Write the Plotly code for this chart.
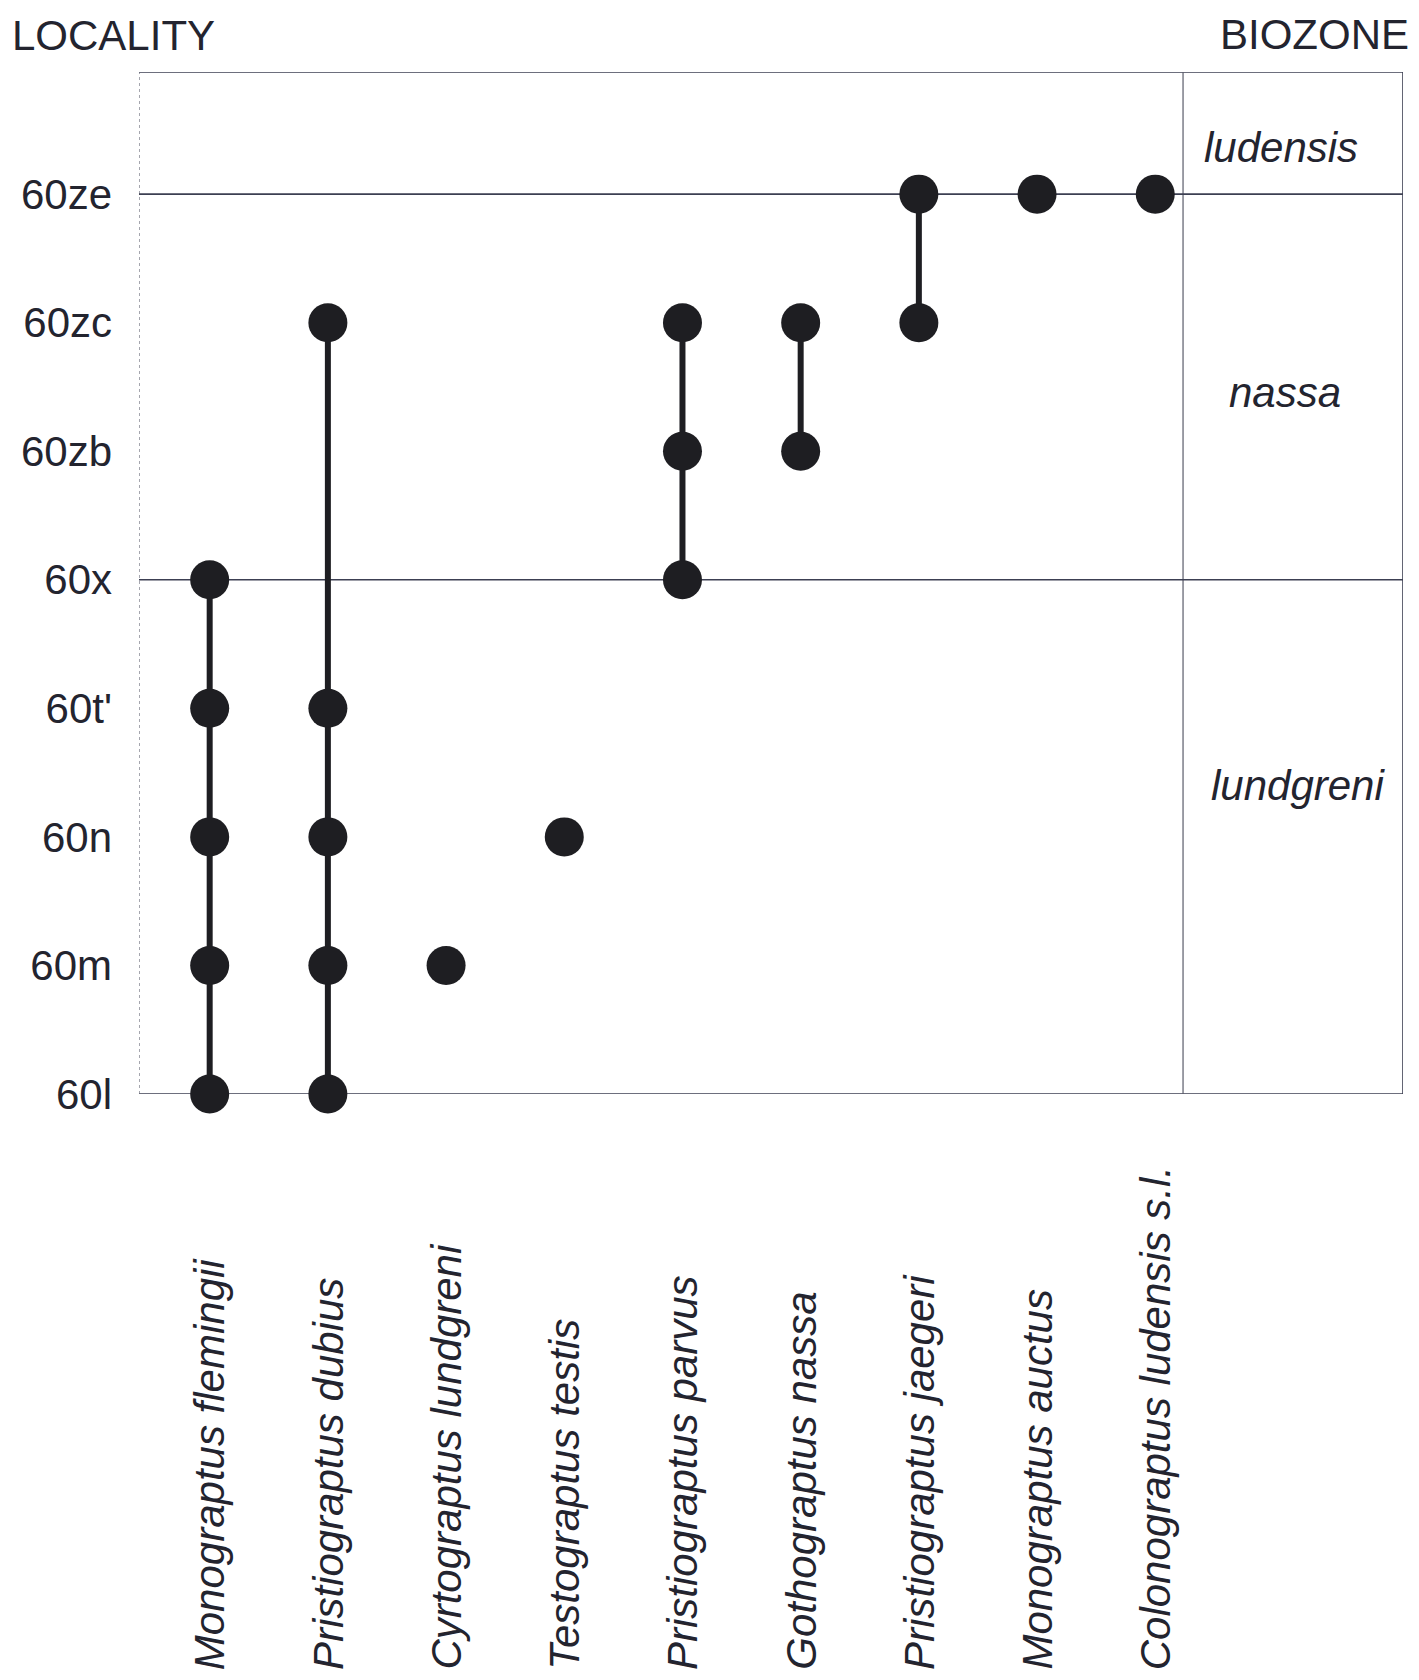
import plotly.graph_objects as go

# ---- data ----
localities = ["60l", "60m", "60n", "60t'", "60x", "60zb", "60zc", "60ze"]
species = [
    "Monograptus flemingii",
    "Pristiograptus dubius",
    "Cyrtograptus lundgreni",
    "Testograptus testis",
    "Pristiograptus parvus",
    "Gothograptus nassa",
    "Pristiograptus jaegeri",
    "Monograptus auctus",
    "Colonograptus ludensis s.l.",
]
occurrences = [
    ["60l", "60m", "60n", "60t'", "60x"],
    ["60l", "60m", "60n", "60t'", "60zc"],
    ["60m"],
    ["60n"],
    ["60x", "60zb", "60zc"],
    ["60zb", "60zc"],
    ["60zc", "60ze"],
    ["60ze"],
    ["60ze"],
]
biozones = ["ludensis", "nassa", "lundgreni"]
biozone_label_y = [7.36, 5.46, 2.40]
biozone_label_x = [9.06, 9.10, 9.21]
zone_boundaries = ["60x", "60ze"]

# ---- styling ----
FONT = "Liberation Sans, Arial, Helvetica, sans-serif"
TXT = "#23242f"
LINE = "#3c3f52"
MARK = "#1e1e22"
FS = 42

X_MIN, X_MAX = -0.598, 10.096
Y_MIN, Y_MAX = 0.0, 7.95
DIVIDER_X = 8.235

yidx = {loc: i for i, loc in enumerate(localities)}

fig = go.Figure()

for i, (sp, occ) in enumerate(zip(species, occurrences)):
    ys = sorted(yidx[o] for o in occ)
    fig.add_trace(go.Scatter(
        x=[i] * len(ys), y=ys,
        mode="lines+markers",
        line=dict(color=MARK, width=6),
        marker=dict(color=MARK, size=39, line=dict(width=0)),
        cliponaxis=False,
        showlegend=False, hoverinfo="skip",
    ))

shapes = []
shapes.append(dict(type="line", xref="x", yref="y", x0=X_MIN, x1=X_MAX, y0=Y_MAX, y1=Y_MAX,
                   line=dict(color=LINE, width=1.6), layer="below"))
shapes.append(dict(type="line", xref="x", yref="y", x0=X_MIN, x1=X_MAX, y0=Y_MIN, y1=Y_MIN,
                   line=dict(color=LINE, width=1.6), layer="below"))
shapes.append(dict(type="line", xref="x", yref="y", x0=X_MIN, x1=X_MIN, y0=Y_MIN, y1=Y_MAX,
                   line=dict(color="#6a6c78", width=1.2, dash="dot"), layer="below"))
shapes.append(dict(type="line", xref="x", yref="y", x0=X_MAX, x1=X_MAX, y0=Y_MIN, y1=Y_MAX,
                   line=dict(color=LINE, width=1.6), layer="below"))
shapes.append(dict(type="line", xref="x", yref="y", x0=DIVIDER_X, x1=DIVIDER_X, y0=Y_MIN, y1=Y_MAX,
                   line=dict(color="#5a5c6a", width=1.2), layer="below"))
for zb in zone_boundaries:
    yv = yidx[zb]
    shapes.append(dict(type="line", xref="x", yref="y", x0=X_MIN, x1=X_MAX, y0=yv, y1=yv,
                       line=dict(color=LINE, width=1.6), layer="below"))

annotations = []
for i, sp in enumerate(species):
    annotations.append(dict(
        x=i, xref="x", y=-0.5656, yref="paper",
        text=sp, textangle=-90, showarrow=False,
        xanchor="center", yanchor="bottom",
        font=dict(family=FONT, size=FS, color=TXT, style="italic"),
    ))
for name, bx, by in zip(biozones, biozone_label_x, biozone_label_y):
    annotations.append(dict(
        x=bx, xref="x", y=by, yref="y", text=name, showarrow=False,
        xanchor="center", yanchor="middle",
        font=dict(family=FONT, size=FS, color=TXT, style="italic"),
    ))
annotations.append(dict(
    x=-0.1022, xref="paper", y=1.036, yref="paper", text="LOCALITY", showarrow=False,
    xanchor="left", yanchor="middle", font=dict(family=FONT, size=FS, color=TXT),
))
annotations.append(dict(
    x=1.0066, xref="paper", y=1.037, yref="paper", text="BIOZONE", showarrow=False,
    xanchor="right", yanchor="middle", font=dict(family=FONT, size=FS, color=TXT),
))

fig.update_layout(
    width=1411, height=1672,
    margin=dict(l=131, r=16, t=64, b=586),
    paper_bgcolor="white", plot_bgcolor="white",
    xaxis=dict(range=[X_MIN, X_MAX], showgrid=False, zeroline=False, showline=False,
               showticklabels=False, ticks=""),
    yaxis=dict(range=[Y_MIN, Y_MAX], showgrid=False, zeroline=False, showline=False,
               tickvals=list(range(len(localities))), ticktext=localities, ticks="",
               ticklabelstandoff=26,
               tickfont=dict(family=FONT, size=FS, color=TXT)),
    shapes=shapes, annotations=annotations,
)

fig.write_html("out.html")
